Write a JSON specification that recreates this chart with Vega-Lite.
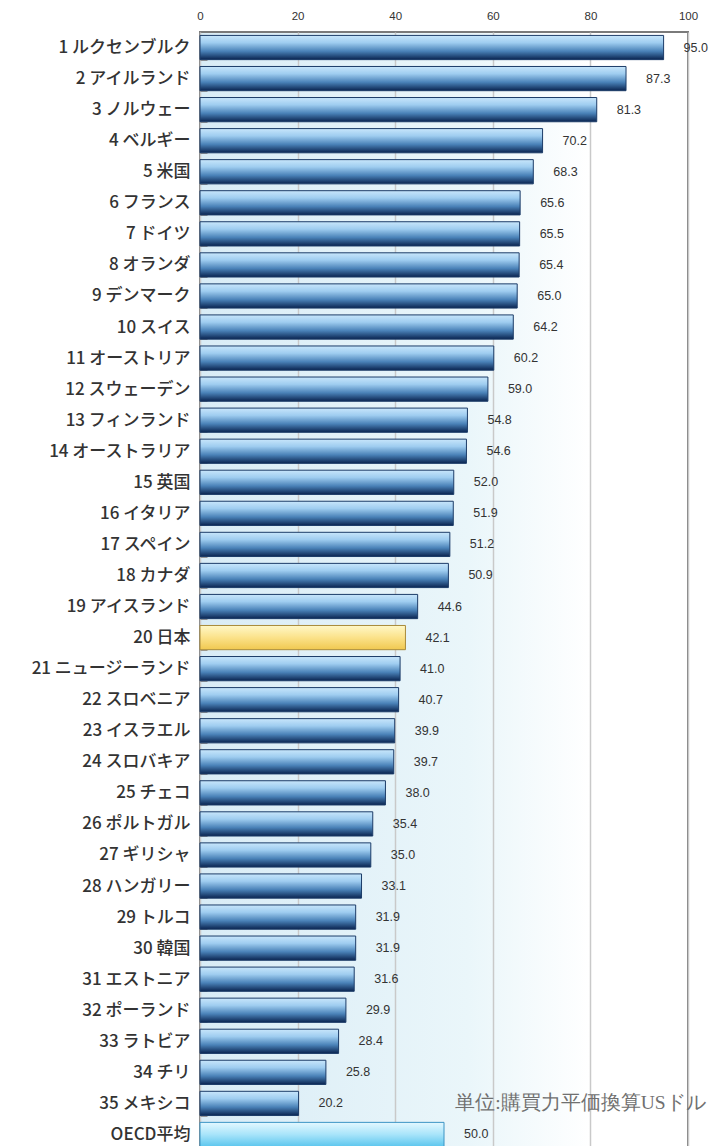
{
  "$schema": "https://vega.github.io/schema/vega-lite/v6.json",
  "autosize": {"type": "none"},
  "padding": {"left": 200, "top": 32, "right": 25, "bottom": 0},
  "width": 488,
  "height": 1118,
  "background": "white",
  "config": {
    "view": {
      "stroke": "#7a7a7a",
      "strokeWidth": 2,
      "fill": {"gradient": "linear", "x1": 0, "y1": 0, "x2": 1, "y2": 0,
        "stops": [{"offset": 0, "color": "#d9ecf6"}, {"offset": 0.55, "color": "#eaf6fa"}, {"offset": 0.8, "color": "#ffffff"}, {"offset": 1, "color": "#ffffff"}]}
    },
    "font": "Noto Sans CJK JP"
  },
  "data": {
    "values": [
      {"country": "1 ルクセンブルク", "value": 95.0, "group": "oecd"},
      {"country": "2 アイルランド", "value": 87.3, "group": "oecd"},
      {"country": "3 ノルウェー", "value": 81.3, "group": "oecd"},
      {"country": "4 ベルギー", "value": 70.2, "group": "oecd"},
      {"country": "5 米国", "value": 68.3, "group": "oecd"},
      {"country": "6 フランス", "value": 65.6, "group": "oecd"},
      {"country": "7 ドイツ", "value": 65.5, "group": "oecd"},
      {"country": "8 オランダ", "value": 65.4, "group": "oecd"},
      {"country": "9 デンマーク", "value": 65.0, "group": "oecd"},
      {"country": "10 スイス", "value": 64.2, "group": "oecd"},
      {"country": "11 オーストリア", "value": 60.2, "group": "oecd"},
      {"country": "12 スウェーデン", "value": 59.0, "group": "oecd"},
      {"country": "13 フィンランド", "value": 54.8, "group": "oecd"},
      {"country": "14 オーストラリア", "value": 54.6, "group": "oecd"},
      {"country": "15 英国", "value": 52.0, "group": "oecd"},
      {"country": "16 イタリア", "value": 51.9, "group": "oecd"},
      {"country": "17 スペイン", "value": 51.2, "group": "oecd"},
      {"country": "18 カナダ", "value": 50.9, "group": "oecd"},
      {"country": "19 アイスランド", "value": 44.6, "group": "oecd"},
      {"country": "20 日本", "value": 42.1, "group": "japan"},
      {"country": "21 ニュージーランド", "value": 41.0, "group": "oecd"},
      {"country": "22 スロベニア", "value": 40.7, "group": "oecd"},
      {"country": "23 イスラエル", "value": 39.9, "group": "oecd"},
      {"country": "24 スロバキア", "value": 39.7, "group": "oecd"},
      {"country": "25 チェコ", "value": 38.0, "group": "oecd"},
      {"country": "26 ポルトガル", "value": 35.4, "group": "oecd"},
      {"country": "27 ギリシャ", "value": 35.0, "group": "oecd"},
      {"country": "28 ハンガリー", "value": 33.1, "group": "oecd"},
      {"country": "29 トルコ", "value": 31.9, "group": "oecd"},
      {"country": "30 韓国", "value": 31.9, "group": "oecd"},
      {"country": "31 エストニア", "value": 31.6, "group": "oecd"},
      {"country": "32 ポーランド", "value": 29.9, "group": "oecd"},
      {"country": "33 ラトビア", "value": 28.4, "group": "oecd"},
      {"country": "34 チリ", "value": 25.8, "group": "oecd"},
      {"country": "35 メキシコ", "value": 20.2, "group": "oecd"},
      {"country": "OECD平均", "value": 50.0, "group": "avg"}
    ]
  },
  "encoding": {
    "y": {
      "field": "country", "type": "nominal", "title": null,
      "scale": {"paddingInner": 0.22, "paddingOuter": 0.11,
        "domain": ["1 ルクセンブルク", "2 アイルランド", "3 ノルウェー", "4 ベルギー", "5 米国", "6 フランス", "7 ドイツ", "8 オランダ", "9 デンマーク", "10 スイス", "11 オーストリア", "12 スウェーデン", "13 フィンランド", "14 オーストラリア", "15 英国", "16 イタリア", "17 スペイン", "18 カナダ", "19 アイスランド", "20 日本", "21 ニュージーランド", "22 スロベニア", "23 イスラエル", "24 スロバキア", "25 チェコ", "26 ポルトガル", "27 ギリシャ", "28 ハンガリー", "29 トルコ", "30 韓国", "31 エストニア", "32 ポーランド", "33 ラトビア", "34 チリ", "35 メキシコ", "OECD平均"]},
      "axis": {"labelFontSize": 17, "labelFontWeight": 500, "labelColor": "#333333", "labelPadding": 17, "ticks": true, "tickBand": "extent", "tickSize": -7, "tickColor": "#999999", "domain": false, "labelFont": "Noto Sans CJK JP"}
    },
    "x": {
      "field": "value", "type": "quantitative", "title": null,
      "scale": {"domain": [0, 100], "nice": false},
      "axis": {"orient": "top", "values": [0, 20, 40, 60, 80, 100], "grid": true, "gridColor": "#c9c9c9", "gridWidth": 1.5, "ticks": false, "domain": false, "labelFontSize": 11.5, "labelColor": "#333333", "labelPadding": 11, "labelFont": "Liberation Sans", "labelFlush": false}
    }
  },
  "layer": [
    {
      "transform": [{"filter": "datum.group == 'oecd'"}],
      "mark": {"type": "bar", "stroke": "#1c3c68", "strokeWidth": 1,
        "fill": {"gradient": "linear", "x1": 0, "y1": 0, "x2": 0, "y2": 1,
          "stops": [{"offset": 0, "color": "#c8e6fb"}, {"offset": 0.3, "color": "#9fcdf0"}, {"offset": 0.65, "color": "#4a82b8"}, {"offset": 1, "color": "#0a2450"}]}}
    },
    {
      "transform": [{"filter": "datum.group == 'japan'"}],
      "mark": {"type": "bar", "stroke": "#a88a3a", "strokeWidth": 1,
        "fill": {"gradient": "linear", "x1": 0, "y1": 0, "x2": 0, "y2": 1,
          "stops": [{"offset": 0, "color": "#fff8c8"}, {"offset": 0.5, "color": "#fbe28a"}, {"offset": 1, "color": "#f0c850"}]}}
    },
    {
      "transform": [{"filter": "datum.group == 'avg'"}],
      "mark": {"type": "bar", "stroke": "#3a94c4", "strokeWidth": 1,
        "fill": {"gradient": "linear", "x1": 0, "y1": 0, "x2": 0, "y2": 1,
          "stops": [{"offset": 0, "color": "#e4f8ff"}, {"offset": 0.5, "color": "#a8e4fa"}, {"offset": 1, "color": "#5cc6ee"}]}}
    },
    {
      "mark": {"type": "text", "align": "left", "dx": 20, "fontSize": 12.5, "color": "#333333", "font": "Liberation Sans"},
      "encoding": {"text": {"field": "value", "type": "quantitative", "format": ".1f"}}
    },
    {
      "transform": [{"filter": "datum.country == '35 メキシコ'"}],
      "mark": {"type": "text", "align": "left", "fontSize": 19.5, "color": "#707070", "font": "Liberation Serif", "text": "単位:購買力平価換算USドル"},
      "encoding": {
        "x": {"datum": 52.3}
      }
    }
  ]
}
